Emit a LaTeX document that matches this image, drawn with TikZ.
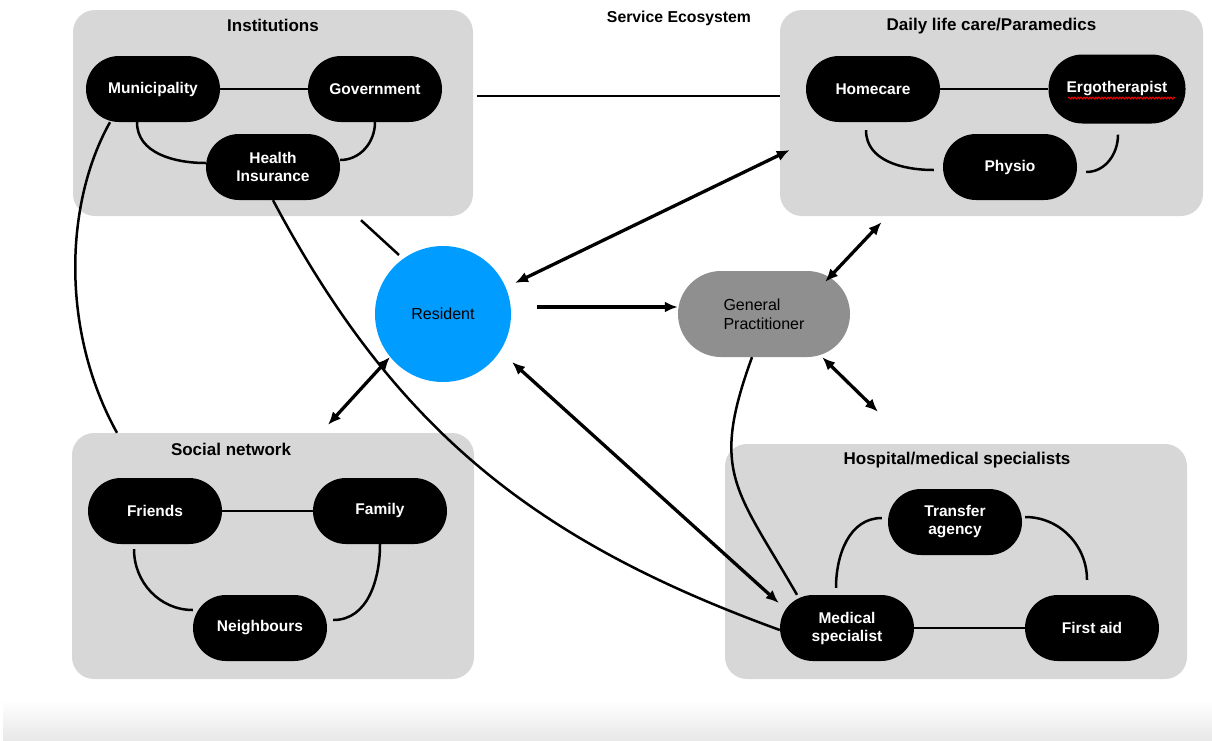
\documentclass[tikz,border=0pt]{standalone}
\usepackage{fontspec}
\setmainfont{Liberation Sans}
\usepackage{tikz}
\usetikzlibrary{arrows.meta,positioning,calc,decorations.pathmorphing}

\definecolor{boxgray}{RGB}{215,215,215}
\definecolor{resblue}{RGB}{0,156,255}
\definecolor{gpgray}{RGB}{143,143,143}

\begin{document}
\begin{tikzpicture}[
  x=1pt, y=1pt,
  group/.style={fill=boxgray, rounded corners=22pt, inner sep=0pt},
  grouptitle/.style={font=\fontsize{17}{19}\selectfont\bfseries},
  pill/.style={fill=black, text=white, rounded corners=33pt, minimum width=134pt, minimum height=66pt, align=center, font=\fontsize{15.5}{18}\selectfont\bfseries},
  link/.style={line width=2.5pt},
  tip/.style={line width=3.3pt, -{Latex[length=13pt,width=11pt]}},
  dbl/.style={line width=3.3pt, {Latex[length=13pt,width=11pt]}-{Latex[length=13pt,width=11pt]}}
]
\useasboundingbox (0,0) rectangle (1212,-740);
\shade[top color=white, bottom color=black!9] (3,-700) rectangle (1212,-740);

% groups
\node[group, minimum width=400pt, minimum height=206pt] (inst) at (273,-113) {};
\node[group, minimum width=423pt, minimum height=206pt] (daily) at (991.5,-113) {};
\node[group, minimum width=402pt, minimum height=246pt] (social) at (273,-556) {};
\node[group, minimum width=462pt, minimum height=235pt] (hosp) at (956,-561.5) {};
\node[grouptitle] at ($(inst.north)+(0,-16)$) {Institutions};
\node[grouptitle] at ($(daily.north)+(0,-16)$) {Daily life care/Paramedics};
\node[grouptitle] at ($(social.north)+(-42,-17)$) {Social network};
\node[grouptitle] at ($(hosp.north)+(1,-16)$) {Hospital/medical specialists};
\node[font=\fontsize{15.8}{18}\selectfont\bfseries] (title) at (679,-18) {Service Ecosystem};

% institutions
\node[pill] (muni) at (153,-89) {Municipality};
\node[pill] (gov) at (375,-89) {Government};
\node[pill] (hi) at (273,-167) {Health\\Insurance};
% daily life care
\node[pill] (home) at (873,-89) {Homecare};
\node[pill, minimum width=137pt, minimum height=69pt, rounded corners=34pt] (ergo) at (1117,-89) {Ergotherapist};
\node[pill] (physio) at (1010,-167) {Physio};
% social network
\node[pill] (friends) at (155,-511) {Friends};
\node[pill] (family) at (380,-511) {\raisebox{4pt}{Family}};
\node[pill] (neigh) at (260,-628) {Neighbours};
% hospital
\node[pill] (transfer) at (955,-522) {Transfer\\agency};
\node[pill] (med) at (847,-628) {Medical\\specialist};
\node[pill] (first) at (1092,-628) {First aid};

\node[circle, fill=resblue, minimum size=136pt, font=\fontsize{16}{18}\selectfont] (res) at (443,-314) {Resident};
\node[fill=gpgray, rounded corners=43pt, minimum width=172pt, minimum height=86pt, align=left, font=\fontsize{16}{19}\selectfont] (gp) at (764,-314) {General\\Practitioner};

\draw[red, line width=0.9pt, decorate, decoration={snake, amplitude=0.9pt, segment length=3pt}]
  ($(ergo.center)+(-49,-9)$) -- ($(ergo.center)+(58,-9)$);

% links inside groups
\draw[link] (muni) -- (gov);
\draw[link] ([xshift=-16pt]muni.south) to[out=-90,in=180] ([yshift=4pt]hi.west);
\draw[link] (gov.south) to[out=-90,in=0] ([yshift=7pt]hi.east);
\draw[link] (home) -- (ergo);
\draw[link] ([shift={(-7,-8)}]home.south) to[out=-90,in=180] ([shift={(-9,-3)}]physio.west);
\draw[link] ([shift={(9,-5)}]physio.east) to[out=0,in=-90] ([shift={(1,-11)}]ergo.south);
\draw[link] (friends) -- (family);
\draw[link] ([shift={(-21,-5)}]friends.south) to[out=-90,in=180] (neigh.165);
\draw[link] (family.south) to[out=-90,in=0] ([shift={(6,8)}]neigh.east);
\draw[link] (med) -- (first);
\draw[link] ([shift={(-11,7)}]med.north) to[out=90,in=180] ([shift={(-6,4)}]transfer.west);
\draw[link] ([shift={(3,5)}]transfer.east) to[out=0,in=90] ([shift={(-5,15)}]first.north);

% links between groups
\draw[link] ($(inst.east)+(4,17)$) -- ($(daily.west)+(0,17)$);
\draw[link] ([xshift=-43pt]muni.south) .. controls +(-45,-80) and +(-57,103) .. ([xshift=-156pt]social.north);
\draw[link] (hi.south) to[out=-62,in=160] ($(med.west)+(0,-2)$);
\draw[link] ($(gp.south)+(-12,0)$) to[out=-110,in=120,looseness=1.3] ($(med.north)+(-50,0)$);
\draw[link] ($(inst.south)+(88,-4)$) -- ($(res)+(-44,59)$);

% resident
\draw[tip] ($(res)+(94,7)$) -- ($(gp.west)+(0,7)$);
\draw[dbl] ($(res)+(72,31)$) -- ($(daily.west)+(10,-37)$);
\draw[dbl] ($(res)+(-53,-43)$) -- ($(social.north)+(55,8)$);
\draw[dbl] ($(res)+(69,-48)$) -- ($(med.west)+(-1,25)$);
\draw[dbl] ($(gp.north east)+(-25,-11)$) -- ($(daily.south)+(-110,-6)$);
\draw[dbl] ($(gp.south east)+(-28,0)$) -- ($(hosp.north)+(-78,32)$);
\end{tikzpicture}
\end{document}
